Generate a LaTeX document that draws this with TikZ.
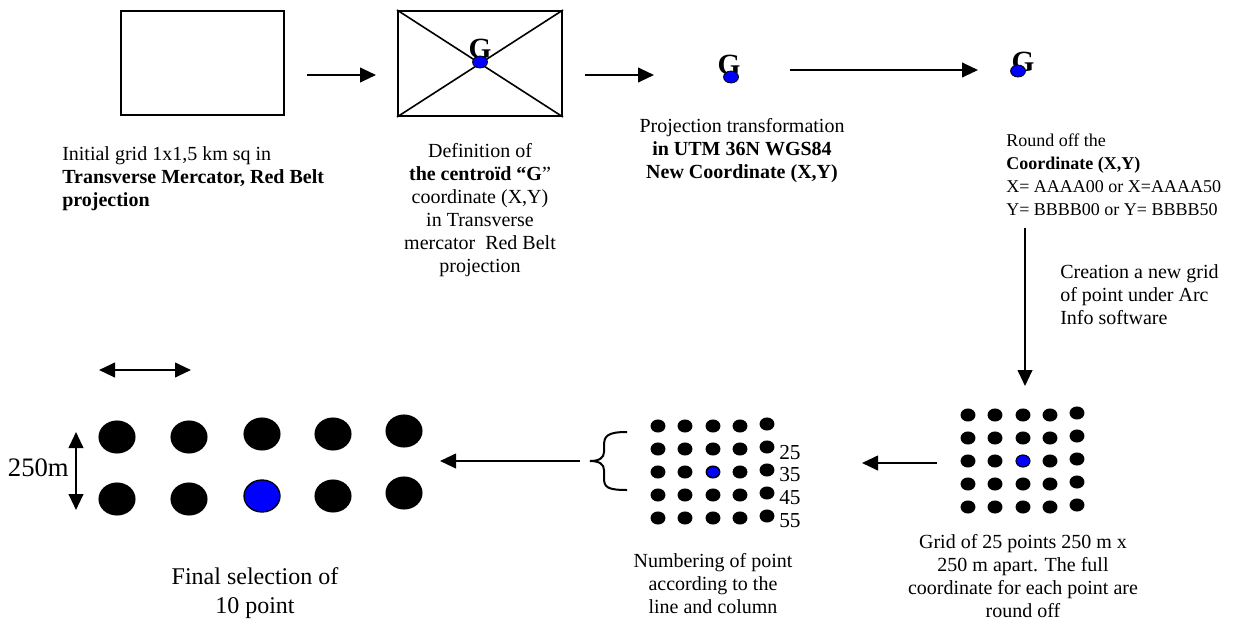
\documentclass[tikz,border=0pt]{standalone}
\usepackage{fontspec}
\setmainfont{Liberation Serif}
\usetikzlibrary{arrows.meta}
\begin{document}
\begin{tikzpicture}[x=0.75pt,y=-0.75pt,
  tip/.tip={Triangle[length=12pt,width=11pt]},
  arr/.style={line width=1.5pt,-tip},
  darr/.style={line width=1.5pt,tip-tip},
  frame/.style={draw,line width=1.5pt,inner sep=0pt},
  txt/.style={inner sep=0pt,font=\fontsize{15}{17.25}\selectfont},
  bigtxt/.style={inner sep=0pt,font=\fontsize{18}{21.75}\selectfont},
  gl/.style={inner sep=0pt,font=\fontsize{22}{22}\selectfont\bfseries},
  bdot/.style={fill=blue,draw=black,line width=0.6pt},
  kdot/.style={fill=black},
]
\path[use as bounding box] (0,0) rectangle (1248,628);

% boxes
\node[frame,minimum width=122.25pt,minimum height=78pt] (b1) at (202.5,63) {};
\node[frame,minimum width=123pt,minimum height=78.75pt] (b2) at (480,63.5) {};
\draw[line width=1.2pt] (b2.north west) -- (b2.south east);
\draw[line width=1.2pt] (b2.south west) -- (b2.north east);

% G symbols
\node[gl] (g2) at (480,49) {G};
\draw[bdot] (480,62) ellipse [x radius=5.6pt, y radius=4.5pt];
\node[gl] (g3) at (729,65) {G};
\draw[bdot] (731,77) ellipse [x radius=5.6pt, y radius=4.5pt];
\node[gl] (g4) at (1023,62) {G};
\draw[bdot] (1018,71) ellipse [x radius=5.6pt, y radius=4.5pt];

% arrows
\coordinate (a1s) at (307,75); \coordinate (a1e) at (376,75);
\coordinate (a2s) at (585,75); \coordinate (a2e) at (654,75);
\coordinate (a3s) at (790,70); \coordinate (a3e) at (978,70);
\coordinate (a4s) at (1025,228); \coordinate (a4e) at (1025,386);
\coordinate (a5s) at (937,463); \coordinate (a5e) at (862,463);
\coordinate (a6s) at (580,461); \coordinate (a6e) at (440,461);
\draw[arr] (a1s) -- (a1e);
\draw[arr] (a2s) -- (a2e);
\draw[arr] (a3s) -- (a3e);
\draw[arr] (a4s) -- (a4e);
\draw[arr] (a5s) -- (a5e);
\draw[arr] (a6s) -- (a6e);

% texts
\node[txt,anchor=north west,align=left] (tinit) at (62,146)
  {Initial grid 1x1,5 km sq in\\\textbf{Transverse Mercator, Red Belt}\\\textbf{projection}};
\node[txt,anchor=north,align=center] (tdef) at (480,143)
  {Definition of\\\textbf{the centroïd “G}”\\coordinate (X,Y)\\in Transverse\\mercator\ \ Red Belt\\projection};
\node[txt,anchor=north,align=center] (tproj) at (742,118)
  {Projection transformation\\\textbf{in UTM 36N WGS84}\\\textbf{New Coordinate (X,Y)}};
\node[txt,font=\fontsize{13.5}{17.25}\selectfont,anchor=north west,align=left] (tround) at (1006,134)
  {Round off the\\\textbf{Coordinate (X,Y)}\\X= AAAA00 or X=AAAA50\\Y= BBBB00 or Y= BBBB50};
\node[txt,anchor=north west,align=left] (tcreate) at (1060,264)
  {Creation a new grid\\of point under Arc\\Info software};
\node[txt,anchor=north,align=center] (tgrid) at (1023,534)
  {Grid of 25 points 250 m x\\250 m apart. The full\\coordinate for each point are\\round off};
\node[txt,anchor=north,align=center] (tnum) at (713,553)
  {Numbering of point\\according to the\\line and column};
\node[bigtxt,anchor=north,align=center] (tfinal) at (255,567)
  {Final selection of\\10 point};

% right grid
\foreach \cx [count=\i] in {968,995,1023,1050,1077} {
  \foreach \cy in {415,438,461,484,507} {
    \pgfmathsetmacro{\dy}{\i==5 ? -2 : 0}
    \fill[kdot] (\cx,\cy+\dy) ellipse [x radius=5.6pt, y radius=4.9pt];
  }
}
\draw[bdot] (1023,461) ellipse [x radius=5.2pt, y radius=4.4pt];

% middle grid
\foreach \cx [count=\i] in {658,685,713,740,767} {
  \foreach \cy in {426,449,472,495,518} {
    \pgfmathsetmacro{\dy}{\i==5 ? -2 : 0}
    \fill[kdot] (\cx,\cy+\dy) ellipse [x radius=5.6pt, y radius=4.9pt];
  }
}
\draw[bdot] (713,472) ellipse [x radius=4.8pt, y radius=4pt];
\node[txt,font=\fontsize{16}{16}\selectfont,anchor=west] (n25) at (779,453) {25};
\node[txt,font=\fontsize{16}{16}\selectfont,anchor=west] (n35) at (779,475) {35};
\node[txt,font=\fontsize{16}{16}\selectfont,anchor=west] (n45) at (779,498) {45};
\node[txt,font=\fontsize{16}{16}\selectfont,anchor=west] (n55) at (779,521) {55};

% brace
\draw[line width=1.5pt] (627,432) .. controls (607,432) and (604,436) .. (604,446)
  -- (604,452) .. controls (604,458) and (599,461) .. (590,461)
  .. controls (599,461) and (604,464) .. (604,470)
  -- (604,478) .. controls (604,487) and (607,490) .. (627,490);

% final selection
\foreach \cx/\cy in {117/437,189/437,262/434,333/434,404/431,117/499,189/499,333/496,404/493} {
  \fill[kdot] (\cx,\cy) ellipse [x radius=13.9pt, y radius=12.4pt];
}
\draw[bdot,line width=1pt] (262,496) ellipse [x radius=13.5pt, y radius=12pt];
\coordinate (h1) at (99,370); \coordinate (h2) at (191,370);
\draw[darr] (h1) -- (h2);
\coordinate (v1) at (76,432); \coordinate (v2) at (76,510);
\draw[darr] (v1) -- (v2);
\node[inner sep=0pt,font=\fontsize{20}{20}\selectfont,anchor=east] (t250) at (69,468) {250m};
\end{tikzpicture}
\end{document}
